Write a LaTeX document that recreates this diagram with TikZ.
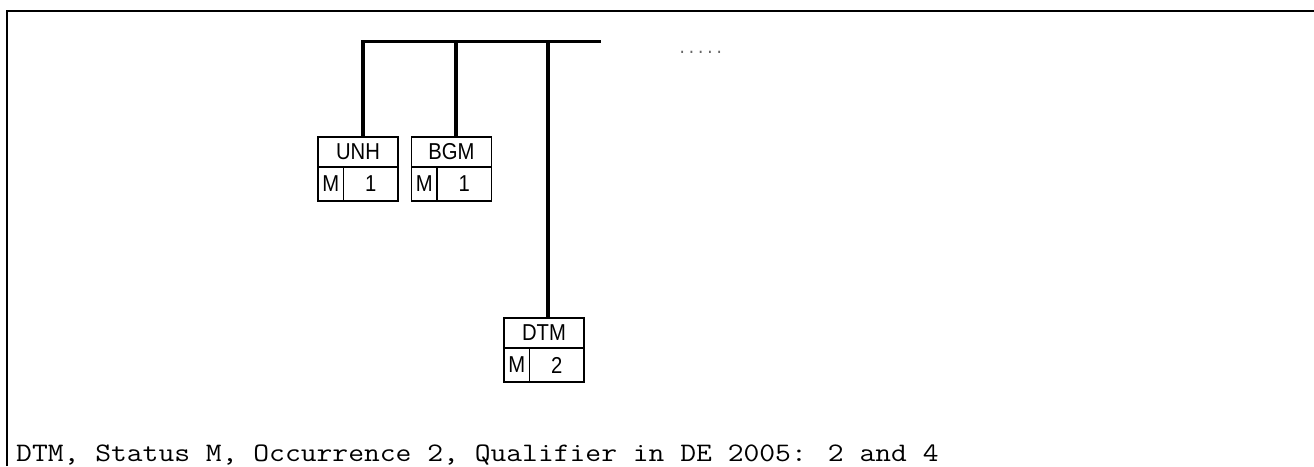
\documentclass[tikz,border=0pt]{standalone}
\usepackage{fontspec}
\setmainfont{Liberation Sans}
\newfontfamily\boxfont[FakeStretch=0.88]{Liberation Sans}
\newfontfamily\codefont[FakeStretch=1.15]{Latin Modern Mono}
\newfontfamily\dotfont{Liberation Mono}
\usetikzlibrary{positioning}

\begin{document}
\begin{tikzpicture}[
    x=1pt, y=-1pt,
    seghead/.style={rectangle, draw, line width=1.7pt, inner sep=0pt, outer sep=0pt, minimum width=80pt, minimum height=30pt, font=\boxfont\fontsize{23}{26}\selectfont},
    segstat/.style={rectangle, draw, line width=1.7pt, inner sep=0pt, outer sep=0pt, minimum width=25.5pt, minimum height=34pt, font=\boxfont\fontsize{23}{26}\selectfont},
    segocc/.style={rectangle, draw, line width=1.7pt, inner sep=0pt, outer sep=0pt, minimum width=54.5pt, minimum height=34pt, font=\boxfont\fontsize{23}{26}\selectfont},
    bus/.style={line width=3.4pt, line join=miter},
    frame/.style={line width=2pt}
]
\useasboundingbox (0,0) rectangle (1314,466);

% Frame
\draw[frame] (7,466) -- (7,11) -- (1314,11);

% Segments
\node[seghead] (unh) at (358,152) {UNH};
\node[segstat, anchor=north west] (unhst) at (unh.south west) {M};
\node[segocc, right=0pt of unhst] (unhocc) {1};

\node[seghead] (bgm) at (451.5,152) {BGM};
\node[segstat, anchor=north west] (bgmst) at (bgm.south west) {M};
\node[segocc, right=0pt of bgmst] (bgmocc) {1};

\node[seghead] (dtm) at (544,333) {DTM};
\node[segstat, anchor=north west] (dtmst) at (dtm.south west) {M};
\node[segocc, right=0pt of dtmst] (dtmocc) {2};

\coordinate (busend) at (601,41.5);
\node[text=black!60, font=\dotfont\fontsize{15.5}{18}\selectfont, anchor=base west] (more) at (674,53) {.....};

% Lines
\draw[bus] ([xshift=5pt]unh.north) |- (busend);
\draw[bus] ([xshift=4.5pt]bgm.north) -- ([xshift=4.5pt]bgm.north |- busend);
\draw[bus] ([xshift=4pt]dtm.north) -- ([xshift=4pt]dtm.north |- busend);

% Caption
\node[anchor=base west, inner sep=0pt, font=\codefont\fontsize{26.7}{30}\selectfont] (caption) at (16,461) {DTM, Status M, Occurrence 2, Qualifier in DE 2005: 2 and 4};

\end{tikzpicture}
\end{document}
